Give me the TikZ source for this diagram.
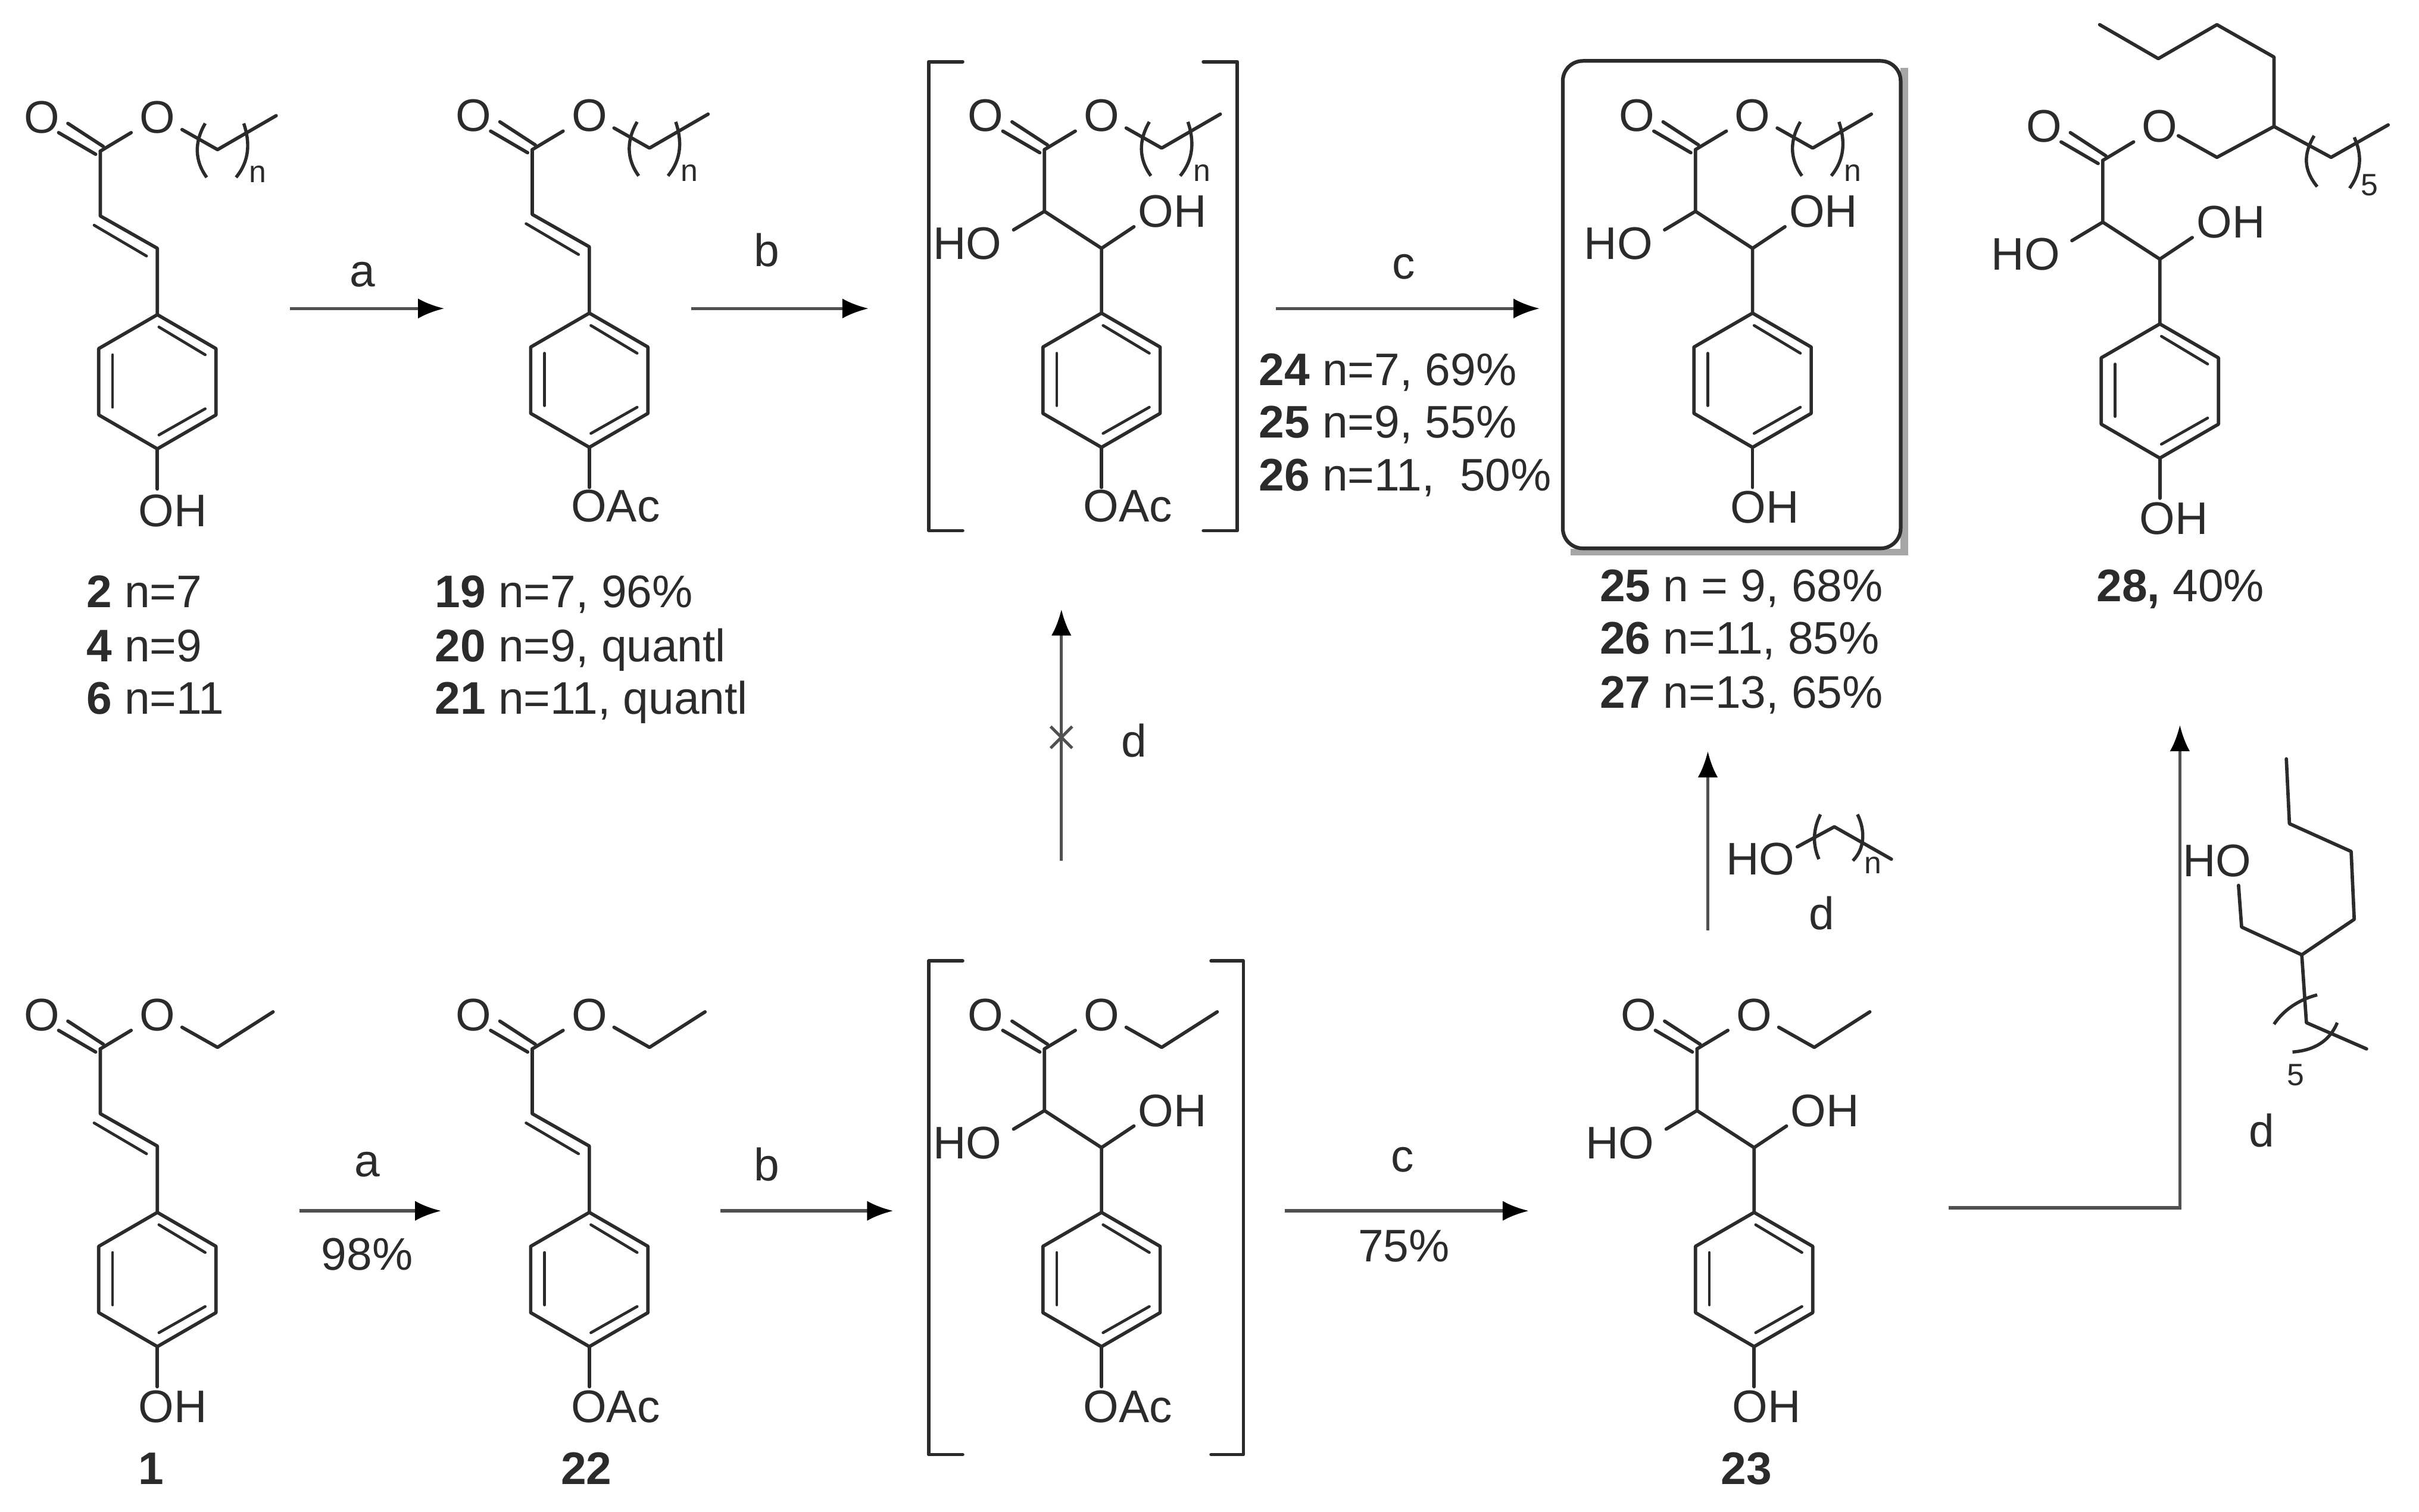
\documentclass[tikz,border=0pt]{standalone}
\usepackage{fontspec}
\setmainfont{Liberation Sans}
\usetikzlibrary{arrows.meta}
\definecolor{ink}{HTML}{2B2B2B}
\definecolor{arrowink}{HTML}{505050}
\tikzset{
  bond/.style={draw=ink,line width=2.2pt,line cap=round,line join=round},
  inner/.style={draw=ink,line width=1.8pt,line cap=round},
  rxn/.style={draw=arrowink,line width=2.1pt,-{Latex[length=17pt,width=13pt,color=black]}},
  plainline/.style={draw=arrowink,line width=1.9pt},
  brk/.style={draw=ink,line width=2.1pt},
  txt/.style={inner sep=0pt,outer sep=0pt,text=ink,font=\fontsize{29.6}{34}\selectfont},
  lab/.style={txt,anchor=base west},
  subs/.style={inner sep=0pt,text=ink,font=\fontsize{20}{22}\selectfont},
}
\newcommand{\ringAt}[2]{%
  \begin{scope}[shift={(#1,#2)}]
    \draw[bond] (0,0) -- (38,22) -- (38,65) -- (0,87) -- (-38,65) -- (-38,22) -- cycle;
    \draw[inner] (1,8) -- (31,26);
    \draw[inner] (-29,26) -- (-29,60);
    \draw[inner] (31,61) -- (1,78);
  \end{scope}}
\newcommand{\esterHead}[1]{%
  \node[txt] (#1-O1) at (-38,-22) {O};
  \node[txt] (#1-O2) at (37,-22) {O};
  \draw[bond] (-27,-12) -- (-3,2);
  \draw[bond] (-21,-18) -- (2,-3);
  \draw[bond] (0,0) -- (20,-12);}
\newcommand{\alkylN}[2]{%
  \draw[bond] (53,-14) -- (76,-1) -- (114,-23);
  \draw[brk] (68,-18) .. controls (61,-6) and (61,6) .. (69,17);
  \draw[brk] (93,-18) .. controls (97,-6) and (97,6) .. (88,17);
  \node[subs] (#1-n) at (102,15) {#2};}
\newcommand{\ethyl}{%
  \draw[bond] (53,-14) -- (76,-1) -- (112,-24);}
\newcommand{\acrylate}[3]{%
  \begin{scope}[shift={(#1,#2)}]
    \esterHead{#3}
    \draw[bond] (0,0) -- (0,42) -- (37,63) -- (37,106);
    \draw[inner] (-4,48) -- (30,68);
    \ringAt{37}{106}
    \draw[bond] (37,193) -- (37,219);
  \end{scope}}
\newcommand{\diol}[3]{%
  \begin{scope}[shift={(#1,#2)}]
    \esterHead{#3}
    \draw[bond] (0,0) -- (0,40) -- (37,64) -- (37,106);
    \draw[bond] (0,40) -- (-20,52);
    \draw[bond] (37,64) -- (58,50);
    \node[txt] (#3-HO) at (-50,61) {HO};
    \node[txt] (#3-OH) at (83,40) {OH};
    \ringAt{37}{106}
    \draw[bond] (37,193) -- (37,219);
  \end{scope}}
\begin{document}
\begin{tikzpicture}[x=1pt,y=-1pt]
\useasboundingbox (0,0) rectangle (1568,980);
\fill[white] (0,0) rectangle (1568,980);

% --- top row ---
\acrylate{65}{98}{m2}
\begin{scope}[shift={(65,98)}]\alkylN{m2}{n}\end{scope}
\node[txt] (m2-OH) at (112,331) {OH};
\node[lab] (l2) at (56,394) {\textbf{2} n=7};
\node[lab] (l4) at (56,429) {\textbf{4} n=9};
\node[lab] (l6) at (56,463) {\textbf{6} n=11};

\acrylate{345}{97}{m19}
\begin{scope}[shift={(345,97)}]\alkylN{m19}{n}\end{scope}
\node[txt] (m19-OAc) at (399,328) {OAc};
\node[lab] (l19) at (282,394) {\textbf{19} n=7, 96\%};
\node[lab] (l20) at (282,429) {\textbf{20} n=9, quantl};
\node[lab] (l21) at (282,463) {\textbf{21} n=11, quantl};

\diol{677}{97}{m3}
\begin{scope}[shift={(677,97)}]\alkylN{m3}{n}\end{scope}
\node[txt] (m3-OAc) at (731,328) {OAc};
\draw[bond] (624,40) -- (602,40) -- (602,344) -- (624,344);
\draw[bond] (780,40) -- (802,40) -- (802,344) -- (780,344);

\fill[gray!70] (1018,44) rectangle (1237,360);
\fill[white] (1013,38) rectangle (1232,356);
\node[draw=ink,line width=2.4pt,rounded corners=13pt,fill=white,minimum width=219pt,minimum height=316pt,inner sep=0pt] (box) at (1122.5,197.5) {};
\diol{1099}{97}{m25}
\begin{scope}[shift={(1099,97)}]\alkylN{m25}{n}\end{scope}
\node[txt] (m25-OH3) at (1144,329) {OH};
\node[lab] (l25) at (1037,390) {\textbf{25} n = 9, 68\%};
\node[lab] (l26) at (1037,424) {\textbf{26} n=11, 85\%};
\node[lab] (l27) at (1037,459) {\textbf{27} n=13, 65\%};

\diol{1363}{104}{m28}
\node[txt] (m28-OH3) at (1409,336) {OH};
\draw[bond] (1412,88) -- (1437,102) -- (1474,82) -- (1474,37) -- (1437,16) -- (1399,38) -- (1361,16);
\draw[bond] (1474,82) -- (1511,102) -- (1548,81);
\draw[brk] (1500,88) .. controls (1493,100) and (1493,110) .. (1502,121);
\draw[brk] (1526,89) .. controls (1531,100) and (1531,111) .. (1523,122);
\node[subs] (m28-5) at (1536,120) {5};
\node[lab] (l28) at (1359,390) {\textbf{28,} 40\%};

\node[lab] (l24a) at (816,250) {\textbf{24} n=7, 69\%};
\node[lab] (l25a) at (816,284) {\textbf{25} n=9, 55\%};
\node[lab] (l26a) at (816,318) {\textbf{26} n=11, \ 50\%};

% --- bottom row ---
\acrylate{65}{680}{m1}
\begin{scope}[shift={(65,680)}]\ethyl\end{scope}
\node[txt] (m1-OH) at (112,912) {OH};
\node[txt,font=\fontsize{29.6}{34}\selectfont\bfseries] (l1) at (98,952) {1};

\acrylate{345}{680}{m22}
\begin{scope}[shift={(345,680)}]\ethyl\end{scope}
\node[txt] (m22-OAc) at (399,912) {OAc};
\node[txt,font=\fontsize{29.6}{34}\selectfont\bfseries] (l22) at (380,952) {22};

\diol{677}{680}{m4}
\begin{scope}[shift={(677,680)}]\ethyl\end{scope}
\node[txt] (m4-OAc) at (731,912) {OAc};
\draw[bond] (624,623) -- (602,623) -- (602,943) -- (624,943);
\draw[bond] (785,623) -- (806,623) -- (806,943) -- (785,943);

\diol{1100}{680}{m23}
\begin{scope}[shift={(1100,680)}]\ethyl\end{scope}
\node[txt] (m23-OH3) at (1145,912) {OH};
\node[txt,font=\fontsize{29.6}{34}\selectfont\bfseries] (l23) at (1132,952) {23};

% --- reagents ---
\node[txt] (rHO1) at (1141,557) {HO};
\draw[bond] (1165,549) -- (1189,536) -- (1226,557);
\draw[brk] (1180,528) .. controls (1175,538) and (1175,548) .. (1179,557);
\draw[brk] (1204,528) .. controls (1209,538) and (1209,550) .. (1201,558);
\node[subs] (rn) at (1214,561) {n};
\node[txt] (rd1) at (1181,592) {d};

\node[txt] (rHO2) at (1437,558) {HO};
\draw[bond] (1451,574) -- (1453,601) -- (1492,619) -- (1526,596) -- (1524,552) -- (1484,534) -- (1482,492);
\draw[bond] (1492,619) -- (1495,663) -- (1534,680);
\draw[brk] (1502,645) .. controls (1490,648) and (1480,655) .. (1474,664);
\draw[brk] (1515,663) .. controls (1510,675) and (1500,681) .. (1486,682);
\node[subs] (r5) at (1488,697) {5};
\node[txt] (rd2) at (1466,733) {d};

% --- arrows ---
\coordinate (a1s) at (188,200); \coordinate (a1e) at (288,200);
\draw[rxn] (a1s) -- (a1e); \node[txt] (ta1) at (235,178) {a};
\coordinate (b1s) at (448,200); \coordinate (b1e) at (563,200);
\draw[rxn] (b1s) -- (b1e); \node[txt] (tb1) at (497,162) {b};
\coordinate (c1s) at (827,200); \coordinate (c1e) at (998,200);
\draw[rxn] (c1s) -- (c1e); \node[txt] (tc1) at (910,173) {c};

\coordinate (a2s) at (194,785); \coordinate (a2e) at (286,785);
\draw[rxn] (a2s) -- (a2e); \node[txt] (ta2) at (238,755) {a}; \node[txt] (ty2) at (238,813) {98\%};
\coordinate (b2s) at (467,785); \coordinate (b2e) at (579,785);
\draw[rxn] (b2s) -- (b2e); \node[txt] (tb2) at (497,755) {b};
\coordinate (c2s) at (833,785); \coordinate (c2e) at (991,785);
\draw[rxn] (c2s) -- (c2e); \node[txt] (tc2) at (909,752) {c}; \node[txt] (ty3) at (910,808) {75\%};

\coordinate (xs) at (688,558); \coordinate (xe) at (688,395);
\draw[rxn] (xs) -- (xe);
\draw[plainline] (681,471) -- (695,485) (695,471) -- (681,485);
\node[txt] (td3) at (735,480) {d};

\coordinate (us) at (1107,603); \coordinate (ue) at (1107,487);
\draw[rxn] (us) -- (ue);

\coordinate (es) at (1263,783); \coordinate (em) at (1413,783); \coordinate (ee) at (1413,470);
\draw[rxn] (es) -- (em) -- (ee);
\end{tikzpicture}
\end{document}
